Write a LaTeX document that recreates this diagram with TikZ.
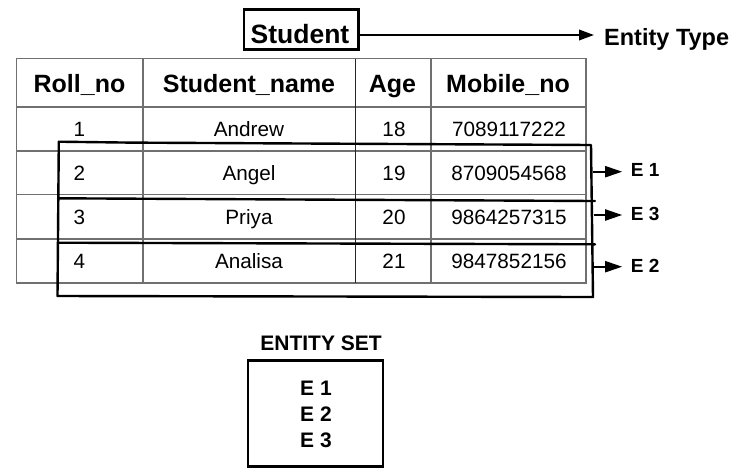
\documentclass[tikz,border=0pt]{standalone}
\usepackage{fontspec}
\setmainfont{Liberation Sans}
\usetikzlibrary{arrows.meta}
\definecolor{tgray}{RGB}{112,112,112}
\begin{document}
\begin{tikzpicture}[x=1pt,y=-1pt,
  hd/.style={anchor=base, inner sep=0pt, font=\fontsize{25}{30}\selectfont\bfseries},
  cell/.style={anchor=base, inner sep=0pt, font=\fontsize{20.7}{25}\selectfont},
  tline/.style={draw=tgray, line width=1.1pt},
  hand/.style={line width=2.4pt, line join=round, line cap=round},
  earr/.style={line width=2pt, shorten >=8.5pt, -{Triangle[length=17pt,width=11pt]}},
  tarr/.style={line width=2pt, shorten >=10pt, -{Triangle[length=15pt,width=10.5pt]}},
  lab/.style={anchor=base west, inner sep=0pt, font=\fontsize{19}{23}\selectfont\bfseries},
  boxed/.style={draw, line width=2.6pt, inner sep=0pt}]
\useasboundingbox (0,0) rectangle (749,475);

% Student entity type
\node[boxed, minimum width=114.7pt, minimum height=39.8pt] (student) at (301.3,29.5) {};
\node[anchor=base, inner sep=0pt, font=\fontsize{26.5}{31}\selectfont\bfseries] (studenttxt) at (300,43.3) {Student};
\node[anchor=base west, inner sep=0pt, font=\fontsize{23.5}{28}\selectfont\bfseries] (ettxt) at (604,45) {Entity Type};
\draw[tarr] ([yshift=-5.5pt]student.east) -- ([yshift=-5.5pt]student.east -| ettxt.west);

% Table grid
\draw[tline] (16.5,58.5) rectangle (586,283);
\foreach \yy in {107,151,194.5,239} \draw[tline] (16.5,\yy) -- (586,\yy);
\draw[tline] (143,58.5) -- (143,283);
\draw[draw=black!85, line width=1pt] (355,58.5) -- (355,283);
\draw[tline] (431,58.5) -- (431,283);

% Header
\node[hd] (h1) at (79.5,92.5) {Roll\_no};
\node[hd] (h2) at (249,92.5) {Student\_name};
\node[hd] (h3) at (392.5,92.5) {Age};
\node[hd] (h4) at (508,92.5) {Mobile\_no};

% Rows
\node[cell] (a1) at (79.5,136.7) {1};
\node[cell] (b1) at (249,136.7) {Andrew};
\node[cell] (c1) at (394,136.7) {18};
\node[cell] (d1) at (509,136.7) {7089117222};

\node[cell] (a2) at (79.5,180.7) {2};
\node[cell] (b2) at (249,180.7) {Angel};
\node[cell] (c2) at (394,180.7) {19};
\node[cell] (d2) at (509,180.7) {8709054568};

\node[cell] (a3) at (79.5,224.3) {3};
\node[cell] (b3) at (249,224.3) {Priya};
\node[cell] (c3) at (394,224.3) {20};
\node[cell] (d3) at (509,224.3) {9864257315};

\node[cell] (a4) at (79.5,268.3) {4};
\node[cell] (b4) at (249,268.3) {Analisa};
\node[cell] (c4) at (394,268.3) {21};
\node[cell] (d4) at (509,268.3) {9847852156};

% Hand-drawn entity rectangles
\draw[hand] (58.8,141.7) -- (130,142.6) -- (591,145) -- (593,297) -- (57.5,296) -- cycle;
\draw[hand] (58.2,198.3) -- (595,201);
\draw[hand] (57.8,242.7) -- (595,244.3);

% Entity labels
\coordinate (r1) at (593,171.7);
\coordinate (r3) at (593.5,215);
\coordinate (r2) at (594,266.7);
\node[lab] (e1lab) at (630.7,176.7) {E 1};
\node[lab] (e3lab) at (630.7,220) {E 3};
\node[lab] (e2lab) at (630.7,272.7) {E 2};
\draw[earr] (r1) -- (r1 -| e1lab.west);
\draw[earr] (r3) -- (r3 -| e3lab.west);
\draw[earr] (r2) -- (r2 -| e2lab.west);

% Entity set
\node[anchor=base, inner sep=0pt, font=\fontsize{21}{25}\selectfont\bfseries] (estitle) at (321,350) {ENTITY SET};
\node[boxed, minimum width=134.8pt, minimum height=106pt] (esbox) at (315.4,413.5) {};
\node[anchor=base west, inner sep=0pt, font=\fontsize{21}{25}\selectfont\bfseries] (s1) at (300,395) {E 1};
\node[anchor=base west, inner sep=0pt, font=\fontsize{21}{25}\selectfont\bfseries] (s2) at (300,421.7) {E 2};
\node[anchor=base west, inner sep=0pt, font=\fontsize{21}{25}\selectfont\bfseries] (s3) at (300,447.7) {E 3};
\end{tikzpicture}
\end{document}
